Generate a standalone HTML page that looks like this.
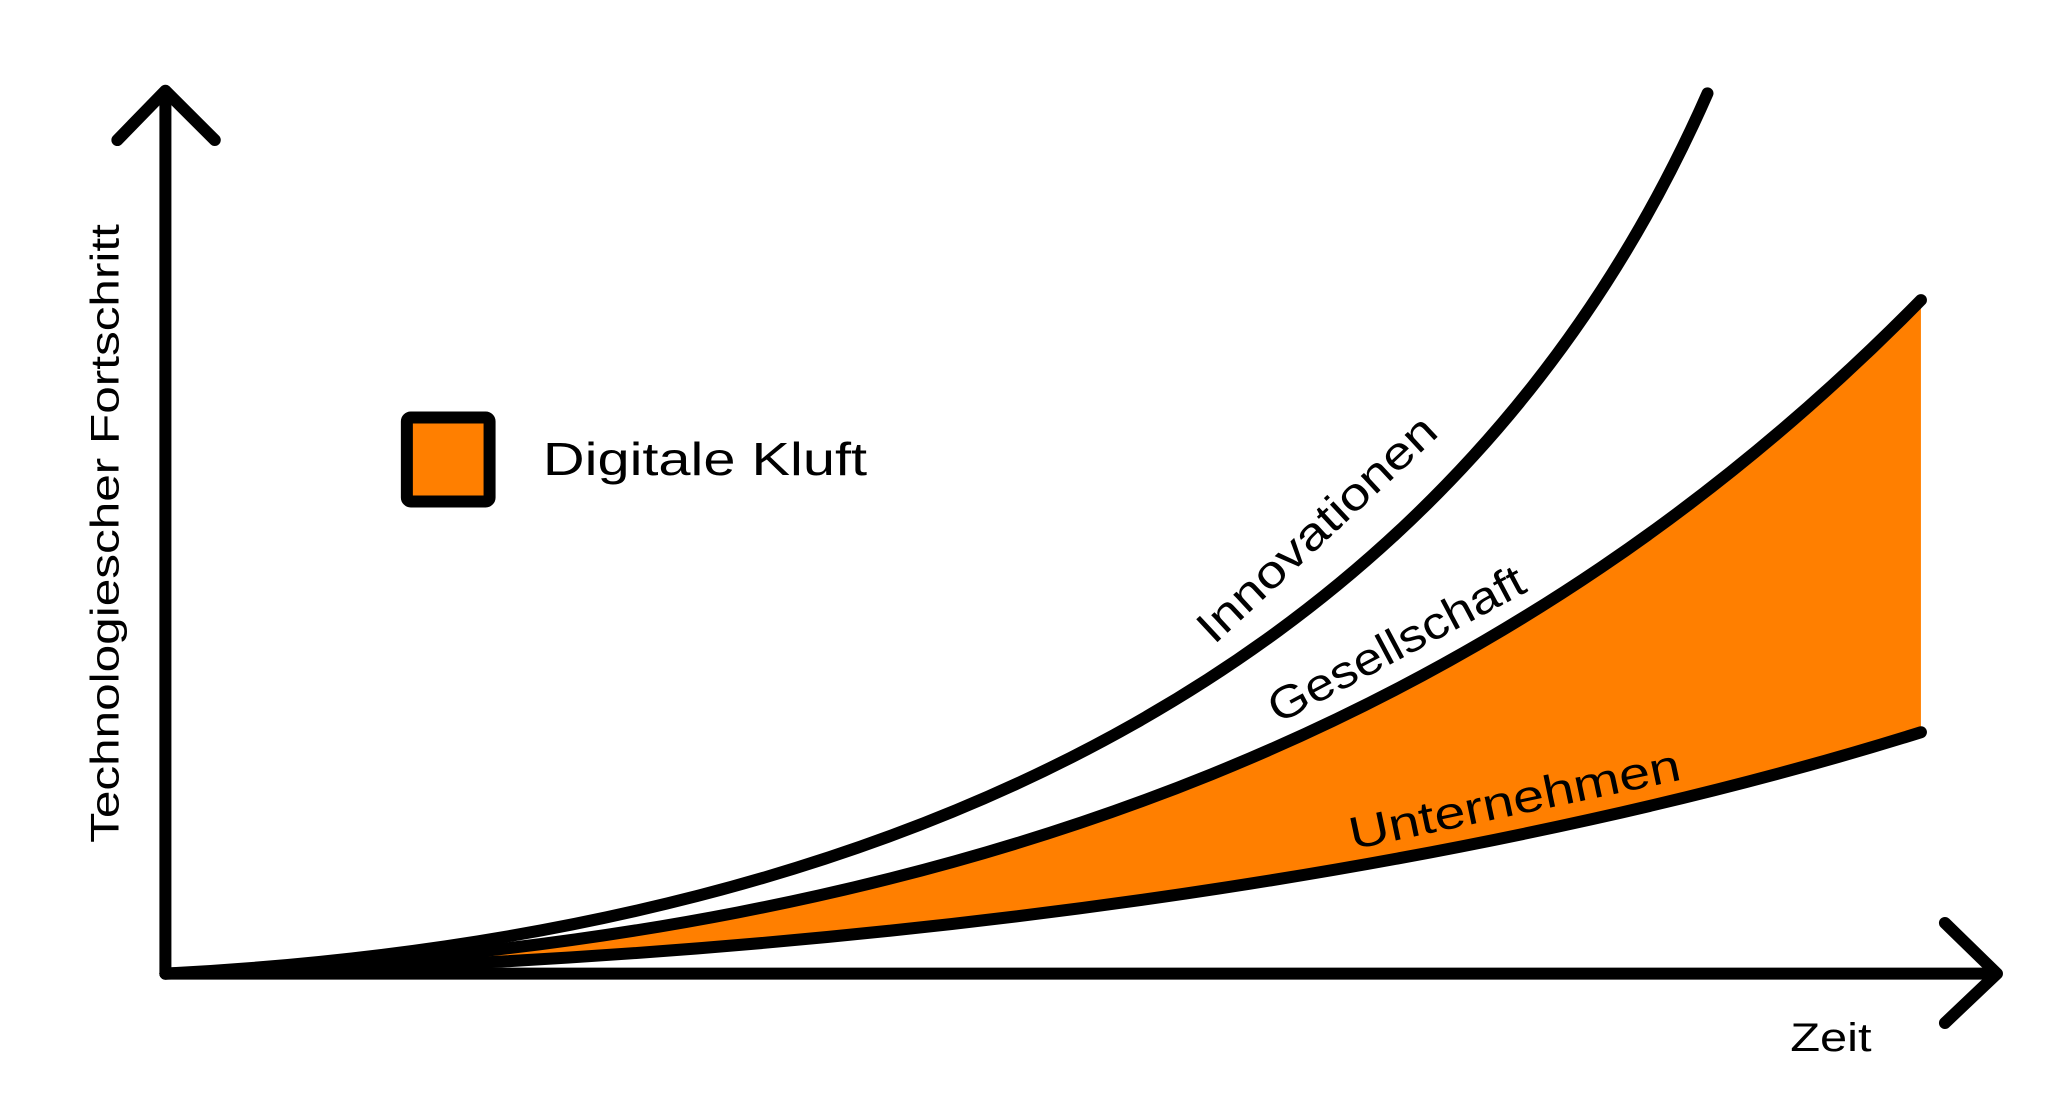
<!DOCTYPE html>
<html><head><style>html,body{margin:0;padding:0;background:#fff}svg{display:block}</style></head>
<body>
<svg width="2061" height="1115" viewBox="0 0 1545 836" preserveAspectRatio="none" xmlns="http://www.w3.org/2000/svg" font-family="Liberation Sans, sans-serif">
<rect width="1545" height="836" fill="#fff"/>
<path d="M124,730 C750,710 1150,520 1440,225 L1440,549 C1150,640 700,720 124,730 Z" fill="#ff7f00"/>
<g fill="none" stroke="#000" stroke-width="9" stroke-linecap="round" stroke-linejoin="round">
<path d="M124,730 L124,70"/>
<path d="M88,105 L124,68 L161,105"/>
<path d="M124,730 L1495,730"/>
<path d="M1458,692 L1497,730 L1458,767"/>
<path d="M124,730 C700,700 1100,480 1280,70"/>
<path d="M124,730 C750,710 1150,520 1440,225"/>
<path d="M124,730 C700,720 1150,640 1440,549"/>
<rect x="305" y="313" width="62" height="63" rx="3" fill="#ff7f00"/>
</g>
<text x="407" y="356" font-size="35" textLength="243" lengthAdjust="spacingAndGlyphs">Digitale Kluft</text>
<text x="1342" y="788" font-size="30" textLength="61" lengthAdjust="spacingAndGlyphs">Zeit</text>
<text transform="translate(89,400) rotate(-90)" text-anchor="middle" font-size="30" textLength="464" lengthAdjust="spacingAndGlyphs">Technologiescher Fortschritt</text>
<text transform="translate(910,484) rotate(-43)" font-size="34" textLength="232" lengthAdjust="spacingAndGlyphs">Innovationen</text>
<text transform="translate(958,543) rotate(-28)" font-size="34" textLength="213" lengthAdjust="spacingAndGlyphs">Gesellschaft</text>
<text transform="translate(1014,637) rotate(-12)" font-size="34" textLength="253" lengthAdjust="spacingAndGlyphs">Unternehmen</text>
</svg>
</body></html>
